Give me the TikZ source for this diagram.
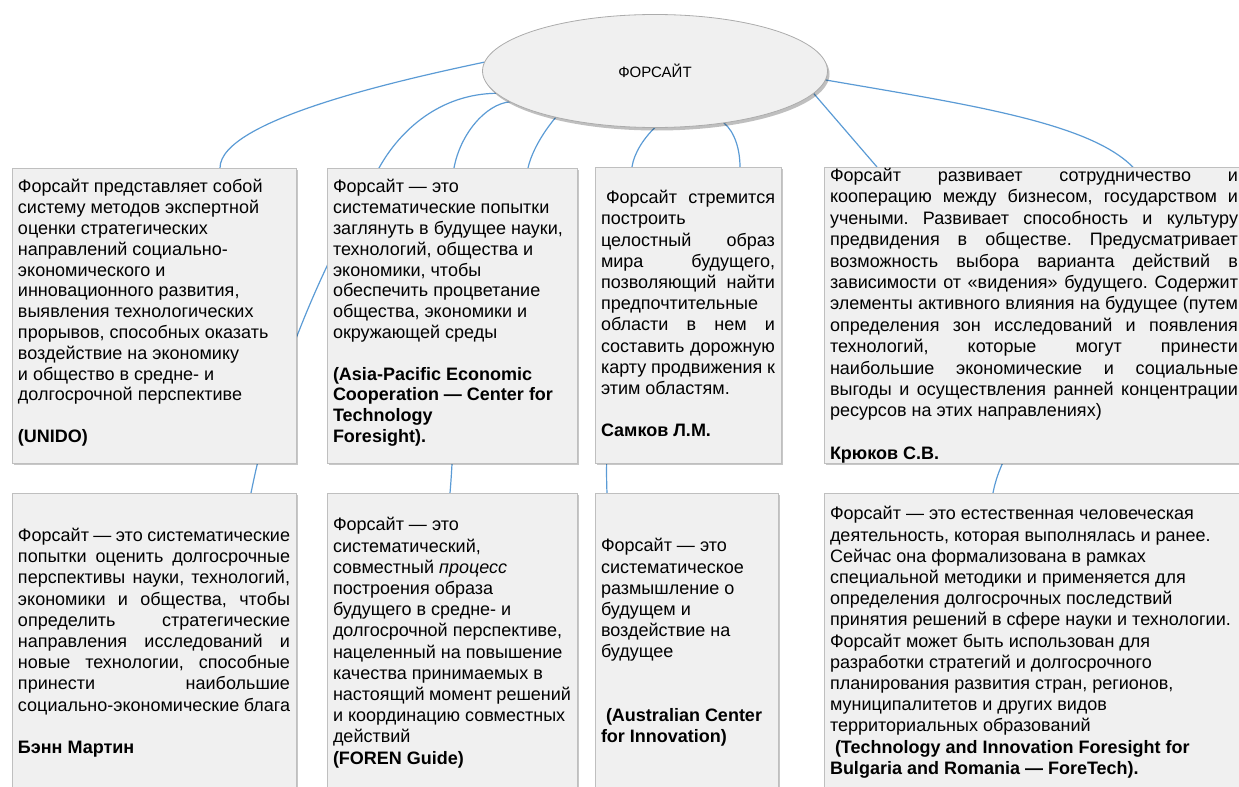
\documentclass[tikz,border=0pt]{standalone}
\usepackage{fontspec}
\setmainfont{Liberation Sans}
\usetikzlibrary{shapes.geometric, shadows}
\pgfdeclarelayer{background}
\pgfsetlayers{background,main}
\definecolor{boxfill}{HTML}{F0F0F0}
\definecolor{boxline}{HTML}{BFBFBF}
\definecolor{linkblue}{HTML}{5B9BD5}
% width, height, top gap, text
\newcommand{\cardtext}[4]{\parbox[t][#2][t]{#1}{\frenchspacing\hyphenpenalty=10000 \exhyphenpenalty=10000 \tolerance=10000 \vspace*{#3}#4}}
\tikzset{
  card/.style={draw=boxline, fill=boxfill, anchor=north west, inner xsep=3pt, inner ysep=0pt, outer sep=0pt,
    drop shadow={shadow xshift=1.2pt, shadow yshift=-1.2pt, fill=black, opacity=0.22},
    font=\fontsize{9}{10.6}\selectfont},
  link/.style={draw=linkblue, line width=0.6pt}
}

\begin{document}
\begin{tikzpicture}[x=0.5pt, y=-0.5pt]
        \useasboundingbox (0,0) rectangle (1239,787);
        % Central ellipse
        \node[ellipse, draw=gray!65, fill=boxfill, minimum width=172.5pt, minimum height=56.5pt, inner sep=0pt, outer sep=0pt,
          drop shadow={shadow xshift=1pt, shadow yshift=-1.5pt, fill=black, opacity=0.25},
          font=\fontsize{7.5}{9}\selectfont] (core) at (655,71) {ФОРСАЙТ};
        % Upper row of definitions
        \node[card] (unido) at (12,168) {\cardtext{136pt}{147.5pt}{5.75pt}{\raggedright\fontsize{9}{10.4}\selectfont
          Форсайт представляет собой\\
          систему методов экспертной\\
          оценки стратегических\\
          направлений социально-\\
          экономического и\\
          инновационного развития,\\
          выявления технологических\\
          прорывов, способных оказать\\
          воздействие на экономику\\
          и общество в средне- и\\
          долгосрочной перспективе\\[\baselineskip]
          \textbf{(UNIDO)}}};
        \node[card] (apec) at (327,168) {\cardtext{119pt}{147.5pt}{5.75pt}{\raggedright\fontsize{9}{10.4}\selectfont
          Форсайт — это\\
          систематические попытки\\
          заглянуть в будущее науки,\\
          технологий, общества и\\
          экономики, чтобы\\
          обеспечить процветание\\
          общества, экономики и\\
          окружающей среды\\[\baselineskip]
          \textbf{(Asia-Pacific Economic\\
          Cooperation — Center for\\
          Technology\\
          Foresight).}}};
        \node[card] (samkov) at (595,167) {\cardtext{87pt}{148pt}{11.7pt}{%
          \hspace*{2.5pt}Форсайт стремится\linebreak
          построить\\
          целостный образ\linebreak
          мира будущего,\linebreak
          позволяющий найти\linebreak
          предпочтительные\\
          области в нем и\linebreak
          составить дорожную\linebreak
          карту продвижения к\linebreak
          этим областям.\\[\baselineskip]
          \textbf{Самков Л.М.}}};
        \node[card] (krukov) at (824,167) {\cardtext{204pt}{148pt}{0.6pt}{\fontsize{9}{10.7}\selectfont
          Форсайт развивает сотрудничество и\linebreak
          кооперацию между бизнесом, государством и\linebreak
          учеными. Развивает способность и культуру\linebreak
          предвидения в обществе. Предусматривает\linebreak
          возможность выбора варианта действий в\linebreak
          зависимости от «видения» будущего. Содержит\linebreak
          элементы активного влияния на будущее (путем\linebreak
          определения зон исследований и появления\linebreak
          технологий, которые могут принести\linebreak
          наибольшие экономические и социальные\linebreak
          выгоды и осуществления ранней концентрации\linebreak
          ресурсов на этих направлениях)\\[\baselineskip]
          \textbf{Крюков С.В.}}};
        % Lower row of definitions
        \node[card] (martin) at (12,493) {\cardtext{136pt}{155pt}{17.6pt}{%
          Форсайт — это систематические\linebreak
          попытки оценить долгосрочные\linebreak
          перспективы науки, технологий,\linebreak
          экономики и общества, чтобы\linebreak
          определить стратегические\linebreak
          направления исследований и\linebreak
          новые технологии, способные\linebreak
          принести наибольшие\linebreak
          социально-экономические блага\\[\baselineskip]
          \textbf{Бэнн Мартин}}};
        \node[card] (foren) at (327,493) {\cardtext{119pt}{155pt}{12.25pt}{\raggedright
          Форсайт — это\\
          систематический,\\
          совместный \textit{процесс}\\
          построения образа\\
          будущего в средне- и\\
          долгосрочной перспективе,\\
          нацеленный на повышение\\
          качества принимаемых в\\
          настоящий момент решений\\
          и координацию совместных\\
          действий\\
          \textbf{(FOREN Guide)}}};
        \node[card] (acfi) at (595,493) {\cardtext{85.5pt}{155pt}{22.75pt}{\raggedright
          Форсайт — это\\
          систематическое\\
          размышление о\\
          будущем и\\
          воздействие на\\
          будущее\\[2\baselineskip]
          \textbf{\hspace*{2.5pt}(Australian Center\\
          for Innovation)}}};
        \node[card] (foretech) at (824,493) {\cardtext{204pt}{155pt}{6.75pt}{\raggedright
          Форсайт — это естественная человеческая\\
          деятельность, которая выполнялась и ранее.\\
          Сейчас она формализована в рамках\\
          специальной методики и применяется для\\
          определения долгосрочных последствий\\
          принятия решений в сфере науки и технологии.\\
          Форсайт может быть использован для\\
          разработки стратегий и долгосрочного\\
          планирования развития стран, регионов,\\
          муниципалитетов и других видов\\
          территориальных образований\\
          \textbf{\hspace*{2.5pt}(Technology and Innovation Foresight for\\
          Bulgaria and Romania — ForeTech).}}};
        % Links from the ellipse, drawn behind the boxes
        \begin{pgfonlayer}{background}
          \draw[link] (core.177) .. controls (400,80) and (220,120) .. (220,0 |- unido.north);
          \draw[link] (core.188) .. controls (440,94) and (400,130) .. (379,168)
            .. controls (344,228) and (281,343) .. (251,0 |- martin.north);
          \draw[link] (core.192) .. controls (485,104) and (460,135) .. (454,168)
            .. controls (450,300) and (458,400) .. (450,0 |- foren.north);
          \draw[link] (core.205) .. controls (545,130) and (532,150) .. (528,0 |- apec.north);
          \draw[link] (core.270) .. controls (644,138) and (634,153) .. (632,167)
            .. controls (628,300) and (603,400) .. (607,0 |- acfi.north);
          \draw[link] (core.323) .. controls (735,132) and (740,150) .. (740,0 |- samkov.north);
          \draw[link] (core.352) -- (877,0 |- krukov.north);
          \draw[link] (core.357) .. controls (1000,110) and (1140,130) .. (1150,200)
            .. controls (1160,300) and (1010,400) .. (993,0 |- foretech.north);
        \end{pgfonlayer}
    \end{tikzpicture}
\end{document}
